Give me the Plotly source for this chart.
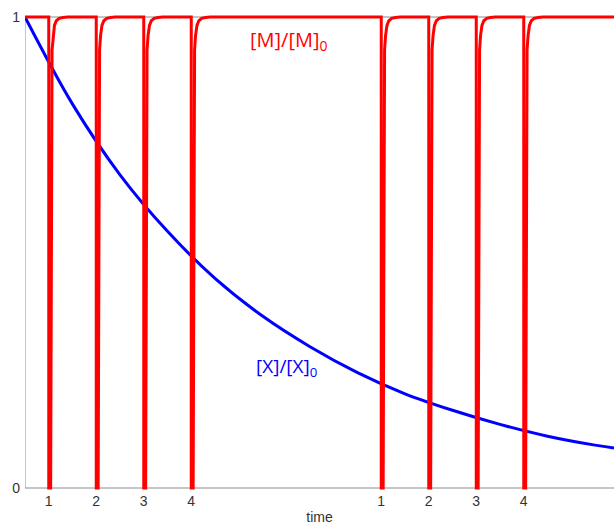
import plotly.graph_objects as go

# ---- data ----
# time axis (units: one pulse spacing); left edge of the plot is t = 0
pulse_times = [0.5, 1.5, 2.5, 3.5, 7.5, 8.5, 9.5, 10.5]
tick_labels = ["1", "2", "3", "4", "1", "2", "3", "4"]

# recovery of [M]/[M]0 after each pulse (offset after pulse, value)
recov_dt = [0.0, 0.04, 0.07, 0.09, 0.12, 0.16, 0.22, 0.30, 0.40]
recov_v = [0.0, 0.0, 0.93, 0.96, 0.982, 0.992, 0.997, 0.999, 1.0]

# [X]/[X]0 decay read at several times
x_t = [0, 1, 2, 3, 4, 5, 6, 7, 8, 9, 10, 11, 12, 12.4]
x_v = [1.0, 0.815, 0.665, 0.545, 0.445, 0.365, 0.300, 0.245, 0.200,
       0.165, 0.135, 0.110, 0.091, 0.085]

t_end = 12.4

# ---- build red trace from pulses ----
m_t, m_v = [0.0], [1.0]
for p in pulse_times:
    m_t.append(p); m_v.append(1.0)
    for dt, v in zip(recov_dt, recov_v):
        m_t.append(p + dt); m_v.append(v)
m_t.append(t_end); m_v.append(1.0)

fig = go.Figure()
fig.add_trace(go.Scatter(x=x_t, y=x_v, mode="lines", line=dict(color="#0000ff", width=3, shape="spline"),
                         showlegend=False, hoverinfo="skip"))
fig.add_trace(go.Scatter(x=m_t, y=m_v, mode="lines", line=dict(color="#ff0000", width=3),
                         showlegend=False, hoverinfo="skip"))

axis_col = "#8c8c8c"
for shp in [dict(x0=0, x1=1, xref="paper", y0=0, y1=0, yref="y"),
            dict(x0=0, x1=1, xref="paper", y0=1, y1=1, yref="y"),
            dict(x0=0, x1=0, xref="x", y0=0, y1=1, yref="y")]:
    fig.add_shape(type="line", line=dict(color=axis_col, width=1), layer="below", **shp)

fig.add_annotation(x=4.69, y=0.951, xref="x", yref="y", text="[M]/[M]<sub>0</sub>",
                   showarrow=False, xanchor="left", yanchor="middle",
                   font=dict(family="Open Sans", size=20, color="#ff0000"))
fig.add_annotation(x=4.82, y=0.257, xref="x", yref="y", text="[X]/[X]<sub>0</sub>",
                   showarrow=False, xanchor="left", yanchor="middle",
                   font=dict(family="Open Sans", size=19, color="#0000ff"))

ypad = 3 / 471
fig.update_layout(
    width=614, height=525,
    margin=dict(l=25, r=0, t=14, b=34, autoexpand=False),
    paper_bgcolor="white", plot_bgcolor="white",
    font=dict(family="Liberation Sans, Arial", size=14, color="#333333"),
    xaxis=dict(range=[0, t_end], tickmode="array", tickvals=pulse_times, ticktext=tick_labels,
               showgrid=False, zeroline=False, showline=False, ticks="",
               title=dict(text="time", standoff=14, font=dict(size=14)), automargin=False),
    yaxis=dict(range=[-ypad, 1 + ypad], tickmode="array", tickvals=[0, 1], ticktext=["0", "1"],
               showgrid=False, zeroline=False, showline=False, ticks="", automargin=False,
               ticklabelstandoff=4),
)

fig.write_html("out.html", config={"displayModeBar": False},
               post_script="document.body.style.margin='0';document.body.style.overflow='hidden';")
